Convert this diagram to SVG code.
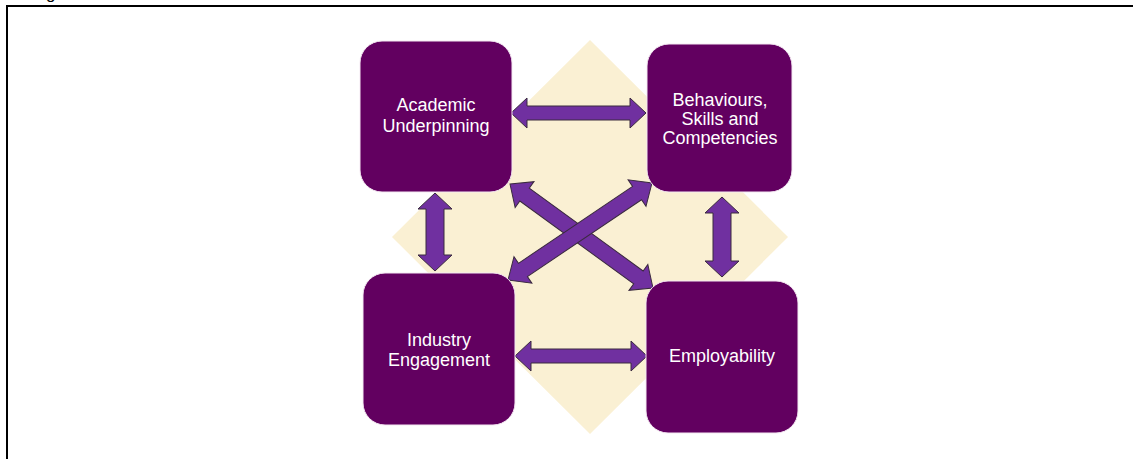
<svg xmlns="http://www.w3.org/2000/svg" width="1133" height="459" viewBox="0 0 1133 459">
  <style>
    .frame { fill: none; stroke: #000; stroke-width: 2; }
    .backdrop { fill: #FAF0D3; }
    .box { fill: #620060; stroke: #F4E8F2; stroke-width: 1; }
    .label { fill: #FFFFFF; font-family: "Liberation Sans", Arial, sans-serif; font-size: 18px; text-anchor: middle; }
    .arrow { fill: #7030A0; stroke: #3A2A3E; stroke-width: 1; stroke-linejoin: miter; }
    .caption { fill: #000; font-family: "Liberation Sans", Arial, sans-serif; font-size: 17px; }
  </style>

  <rect width="1133" height="459" fill="#FFFFFF"/>

  <!-- caption line above the frame, mostly outside the page -->
  <text class="caption" x="46" y="-1">g</text>

  <!-- frame: top and left edges -->
  <path class="frame" d="M7,460 L7,6 L1133,6"/>

  <!-- cream diamond behind the four blocks -->
  <polygon class="backdrop" points="590,40 788,237 590,434 392,237"/>

  <!-- connectors: double-headed arrows -->
  <g id="connectors">
    <!-- Academic <-> Behaviours -->
    <path class="arrow" transform="translate(511,113)" d="M0,0 L16,-15 L16,-7 L119,-7 L119,-15 L135,0 L119,15 L119,7 L16,7 L16,15 Z"/>
    <!-- Industry <-> Employability -->
    <path class="arrow" transform="translate(515,356)" d="M0,0 L16,-15 L16,-7 L116,-7 L116,-15 L132,0 L116,15 L116,7 L16,7 L16,15 Z"/>
    <!-- Academic <-> Industry -->
    <path class="arrow" transform="translate(435,193) rotate(90)" d="M0,0 L16,-17 L16,-9 L62,-9 L62,-17 L78,0 L62,17 L62,9 L16,9 L16,17 Z"/>
    <!-- Behaviours <-> Employability -->
    <path class="arrow" transform="translate(722,197) rotate(90)" d="M0,0 L16,-17 L16,-9 L64,-9 L64,-17 L80,0 L64,17 L64,9 L16,9 L16,17 Z"/>
    <!-- Academic <-> Employability -->
    <path class="arrow" transform="translate(510,184) rotate(36.03)" d="M0,0 L18,-16 L18,-8 L158.8,-8 L158.8,-16 L176.8,0 L158.8,16 L158.8,8 L18,8 L18,16 Z"/>
    <!-- Industry <-> Behaviours (drawn over the other diagonal) -->
    <path class="arrow" transform="translate(508,280) rotate(-33.96)" d="M0,0 L18,-16 L18,-8 L155.6,-8 L155.6,-16 L173.6,0 L155.6,16 L155.6,8 L18,8 L18,16 Z"/>
  </g>

  <g id="academic-underpinning">
    <rect class="box" x="360" y="41" width="152" height="151" rx="22"/>
    <text class="label" x="436" y="111">Academic</text>
    <text class="label" x="436" y="132">Underpinning</text>
  </g>

  <g id="behaviours-skills">
    <rect class="box" x="647" y="44" width="145" height="148" rx="22"/>
    <text class="label" x="720" y="106">Behaviours,</text>
    <text class="label" x="720" y="125">Skills and</text>
    <text class="label" x="720" y="144">Competencies</text>
  </g>

  <g id="industry-engagement">
    <rect class="box" x="363" y="273" width="152" height="152" rx="22"/>
    <text class="label" x="439" y="346">Industry</text>
    <text class="label" x="439" y="366">Engagement</text>
  </g>

  <g id="employability">
    <rect class="box" x="646" y="281" width="152" height="152" rx="22"/>
    <text class="label" x="722" y="362">Employability</text>
  </g>
</svg>
